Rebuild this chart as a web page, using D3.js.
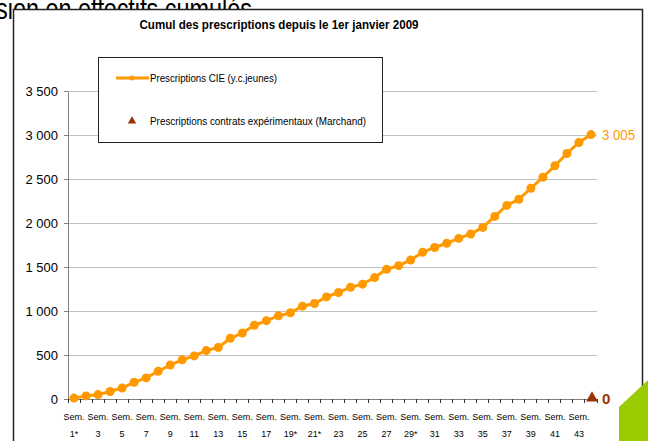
<!DOCTYPE html>
<meta charset="utf-8">
<head>
    <title>Cumul des prescriptions</title>
</head>
<style>
  body { margin: 0; background: #fff; }
  svg { display: block; }
  .slideTitle { font: 30px "Liberation Sans", Arial, sans-serif; fill: #000; }
  .titleLabel { font: bold 13px "Liberation Sans", Arial, sans-serif; text-anchor: middle; }
  .yaxis text { font: 13px "Liberation Sans", Arial, sans-serif; fill: #000; }
  .yaxis path, .yaxis line, .xaxis path { stroke: #808080; shape-rendering: crispEdges; }
  .grid line { stroke: #c0c0c0; shape-rendering: crispEdges; }
  .xlabel { font: 9px "Liberation Sans", Arial, sans-serif; text-anchor: middle; fill: #000; }
  .legend text { font: 10.5px "Liberation Sans", Arial, sans-serif; fill: #000; }
</style>
<body>
<script src="https://cdn.jsdelivr.net/npm/d3@7/dist/d3.min.js"></script>
<script>
// weeks since 1 Jan 2009 (asterisk as in the source)
var weeks = ["1*","2","3","4","5","6","7","8","9","10","11","12","13","14","15","16","17","18","19*","20",
             "21*","22","23","24","25","26","27","28","29*","30","31","32","33","34","35","36","37","38","39","40",
             "41","42","43","44"];

// Prescriptions CIE (y.c.jeunes), cumulative
var cieValues = [10, 35, 50, 85, 125, 190, 240, 315, 385, 445,
                 490, 550, 585, 690, 750, 838, 890, 945, 980, 1055,
                 1085, 1160, 1210, 1270, 1305, 1380, 1475, 1515, 1580, 1668,
                 1722, 1770, 1825, 1875, 1950, 2075, 2200, 2270, 2395, 2520,
                 2650, 2790, 2915, 3005];

// Prescriptions contrats expérimentaux (Marchand)
var marchandWeeks = ["44"];
var marchandValues = [0];

var yTicks = [0, 500, 1000, 1500, 2000, 2500, 3000, 3500];

var W = 648, H = 441;
var plot = {left: 68, right: 597, top: 91, bottom: 399};

var orange = "#ff9900", brown = "#993300";

var svg = d3.select("body").append("svg")
    .attr("width", W)
    .attr("height", H);

// slide title behind the chart
svg.append("text")
    .attr("class", "slideTitle")
    .attr("x", -4)
    .attr("y", 19)
    .attr("textLength", 256)
    .attr("lengthAdjust", "spacingAndGlyphs")
    .text("sion en effectifs cumulés");

// chart frame
svg.append("rect")
    .attr("x", 13.5)
    .attr("y", 9.5)
    .attr("width", 629)
    .attr("height", 460)
    .attr("fill", "#fff")
    .attr("stroke", "#222")
    .attr("stroke-width", 1.5);

svg.append("text")
    .attr("class", "titleLabel")
    .attr("x", 279)
    .attr("y", 29)
    .attr("textLength", 279)
    .attr("lengthAdjust", "spacingAndGlyphs")
    .text("Cumul des prescriptions  depuis le 1er janvier 2009");

var x = d3.scaleBand().domain(weeks).range([plot.left, plot.right]);
var y = d3.scaleLinear().domain([0, 3500]).range([plot.bottom, plot.top]);

var fmt = function(d) { return d3.format(",")(d).replace(",", " "); };

// gridlines
svg.append("g")
    .attr("class", "grid")
  .selectAll("line")
  .data(yTicks.slice(1))
  .enter().append("line")
    .attr("x1", plot.left)
    .attr("x2", plot.right)
    .attr("y1", function(d) { return y(d); })
    .attr("y2", function(d) { return y(d); });

// y axis
svg.append("g")
    .attr("class", "yaxis")
    .attr("transform", "translate(" + plot.left + ",0)")
    .call(d3.axisLeft(y).tickValues(yTicks).tickFormat(fmt).tickSize(4).tickSizeOuter(0).tickPadding(6))
    .call(function(g) { g.selectAll("text").attr("dy", "0.36em"); });

// x axis line + ticks between categories
var xg = svg.append("g").attr("class", "xaxis");
xg.append("path")
    .attr("d", "M" + plot.left + "," + (plot.bottom + 0.5) + "H" + plot.right)
    .attr("stroke", "#808080");
xg.selectAll("line")
  .data(weeks.concat(["end"]))
  .enter().append("line")
    .attr("x1", function(d) { return d === "end" ? plot.right : x(d); })
    .attr("x2", function(d) { return d === "end" ? plot.right : x(d); })
    .attr("y1", plot.bottom)
    .attr("y2", plot.bottom + 4)
    .attr("stroke", "#333")
    .attr("shape-rendering", "crispEdges");

var labelled = weeks.filter(function(d, i) { return i % 2 === 0; });
var xl = xg.selectAll("text.xlabel")
  .data(labelled)
  .enter().append("text")
    .attr("class", "xlabel")
    .attr("x", function(d) { return x(d) + x.bandwidth() / 2; });
xl.append("tspan")
    .attr("x", function(d) { return x(d) + x.bandwidth() / 2; })
    .attr("y", 420)
    .text("Sem.");
xl.append("tspan")
    .attr("x", function(d) { return x(d) + x.bandwidth() / 2; })
    .attr("y", 437)
    .text(function(d) { return d; });

// CIE series
var cie = weeks.map(function(w, i) { return {week: w, value: cieValues[i]}; });
var cx = function(d) { return x(d.week) + x.bandwidth() / 2; };

svg.append("path")
    .datum(cie)
    .attr("fill", "none")
    .attr("stroke", orange)
    .attr("stroke-width", 3)
    .attr("d", d3.line().x(cx).y(function(d) { return y(d.value); }));

svg.selectAll(".dot")
  .data(cie)
  .enter().append("circle")
    .attr("class", "dot")
    .attr("cx", cx)
    .attr("cy", function(d) { return y(d.value); })
    .attr("r", 4.5)
    .attr("fill", orange);

var last = cie[cie.length - 1];
svg.append("text")
    .attr("x", cx(last) + 11)
    .attr("y", y(last.value) + 5)
    .attr("fill", orange)
    .attr("textLength", 33)
    .attr("lengthAdjust", "spacingAndGlyphs")
    .style("font", "15px 'Liberation Sans', Arial, sans-serif")
    .text(fmt(last.value));

// Marchand series
var marchand = marchandWeeks.map(function(w, i) { return {week: w, value: marchandValues[i]}; });
var tri = d3.symbol().type(d3.symbolTriangle).size(60);
svg.selectAll(".tri")
  .data(marchand)
  .enter().append("path")
    .attr("class", "tri")
    .attr("transform", function(d) { return "translate(" + (cx(d) + 1) + "," + (y(d.value) - 1) + ")"; })
    .attr("d", tri)
    .attr("fill", brown);
svg.selectAll(".triLabel")
  .data(marchand)
  .enter().append("text")
    .attr("x", function(d) { return cx(d) + 11; })
    .attr("y", function(d) { return y(d.value) + 5; })
    .attr("fill", brown)
    .style("font", "bold 15px 'Liberation Sans', Arial, sans-serif")
    .text(function(d) { return d.value; });

// legend
var lg = svg.append("g").attr("class", "legend");
lg.append("rect")
    .attr("x", 98.5).attr("y", 57.5)
    .attr("width", 284).attr("height", 85)
    .attr("fill", "#fff")
    .attr("stroke", "#222");
lg.append("line")
    .attr("x1", 116).attr("x2", 149)
    .attr("y1", 78).attr("y2", 78)
    .attr("stroke", orange).attr("stroke-width", 3);
lg.append("circle")
    .attr("cx", 132).attr("cy", 78).attr("r", 2.5)
    .attr("fill", orange);
lg.append("text")
    .attr("x", 150).attr("y", 82)
    .attr("textLength", 127)
    .attr("lengthAdjust", "spacingAndGlyphs")
    .text("Prescriptions CIE (y.c.jeunes)");
lg.append("path")
    .attr("transform", "translate(132,121)")
    .attr("d", d3.symbol().type(d3.symbolTriangle).size(30))
    .attr("fill", brown);
lg.append("text")
    .attr("x", 150).attr("y", 125)
    .attr("textLength", 216)
    .attr("lengthAdjust", "spacingAndGlyphs")
    .text("Prescriptions contrats expérimentaux (Marchand)");

// green slide decoration
svg.append("polygon")
    .attr("points", "619,407 648,380 648,441 619,441")
    .attr("fill", "#99cc00");
</script>
</body>
